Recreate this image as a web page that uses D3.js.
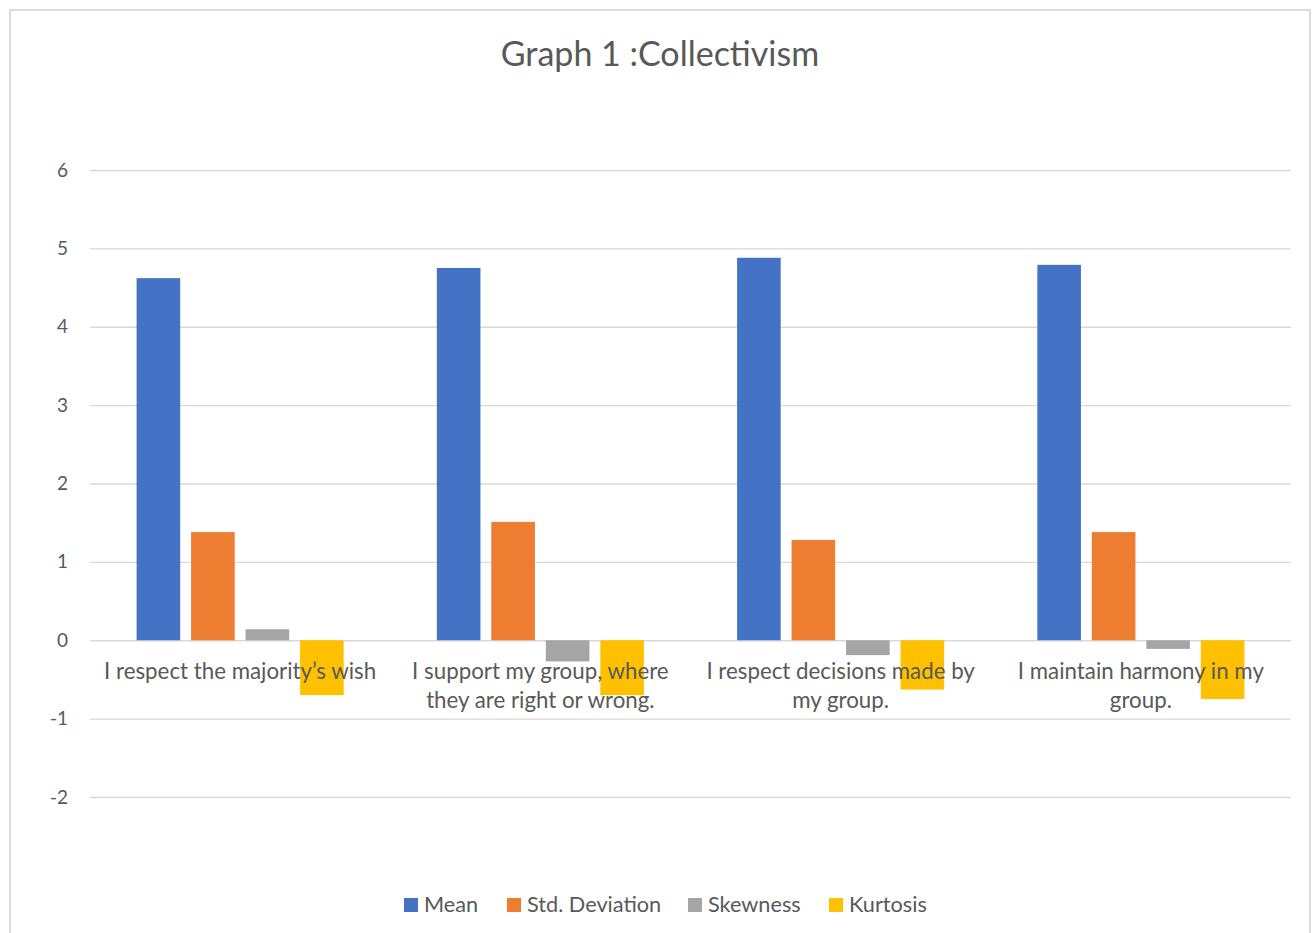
<!DOCTYPE html>
<html>
<head>
<meta charset="utf-8">
<script src="https://cdn.jsdelivr.net/npm/d3@7"></script>
<style>
  html, body { margin: 0; padding: 0; background: #fff; }
  svg { display: block; font-family: Lato, "Open Sans", "Noto Sans", sans-serif; }
</style>
</head>
<body>
<svg id="chart" width="1314" height="933"></svg>
<script>
// Collectivism survey items and their descriptive statistics
const categories = [
  "I respect the majority\u2019s wish",
  "I support my group, where they are right or wrong.",
  "I respect decisions made by my group.",
  "I maintain harmony in my group."
];
const seriesNames = ["Mean", "Std. Deviation", "Skewness", "Kurtosis"];
const meanValues     = [4.62, 4.75, 4.88, 4.79];
const stdDevValues   = [1.38, 1.51, 1.28, 1.38];
const skewnessValues = [0.14, -0.27, -0.19, -0.11];
const kurtosisValues = [-0.70, -0.70, -0.63, -0.75];
const yTicks = [-2, -1, 0, 1, 2, 3, 4, 5, 6];
const seriesColors = ["#4472C4", "#ED7D31", "#A5A5A5", "#FFC000"];

const seriesValues = [meanValues, stdDevValues, skewnessValues, kurtosisValues];
const rows = categories.map((c, i) => ({
  category: c,
  values: seriesNames.map((s, j) => ({ series: s, value: seriesValues[j][i] }))
}));

const svg = d3.select("#chart");
const plot = { left: 90, right: 1291, top: 170, bottom: 797 };
const textColor = "#595959";
const gridColor = "#D9D9D9";

// outer chart frame
svg.append("rect")
  .attr("x", 10).attr("y", 10)
  .attr("width", 1300).attr("height", 940)
  .attr("fill", "#fff")
  .attr("stroke", gridColor).attr("stroke-width", 2);

// title
svg.append("text")
  .attr("x", 660).attr("y", 66)
  .attr("text-anchor", "middle")
  .attr("fill", textColor)
  .attr("font-size", 34)
  .text("Graph 1 :Collectivism");

const y = d3.scaleLinear().domain([-2, 6]).range([plot.bottom, plot.top]);
const x0 = d3.scaleBand().domain(categories).range([plot.left, plot.right]).padding(0);
const x1 = d3.scaleBand().domain(seriesNames).range([0, x0.bandwidth()])
  .paddingInner(0.2).paddingOuter(0.855);
const color = d3.scaleOrdinal().domain(seriesNames).range(seriesColors);

// horizontal gridlines and value labels (plain hyphen for negatives)
const yAxis = d3.axisLeft(y).tickValues(yTicks).tickSize(-(plot.right - plot.left)).tickPadding(22)
  .tickFormat(d => String(d));
const gy = svg.append("g").attr("transform", `translate(${plot.left},0)`).call(yAxis);
gy.select(".domain").remove();
gy.selectAll(".tick line").attr("stroke", gridColor).attr("stroke-width", 1.3);
gy.selectAll(".tick text").attr("fill", textColor).attr("font-size", 19)
  .attr("font-family", "Lato, 'Open Sans', sans-serif");

// bars
const groups = svg.append("g").selectAll("g")
  .data(rows).join("g")
  .attr("transform", d => `translate(${x0(d.category)},0)`);
groups.selectAll("rect")
  .data(d => d.values).join("rect")
  .attr("x", d => x1(d.series))
  .attr("width", x1.bandwidth())
  .attr("y", d => y(Math.max(0, d.value)))
  .attr("height", d => Math.abs(y(d.value) - y(0)))
  .attr("fill", d => color(d.series));

// category labels, wrapped to the group width
function wrapLines(text, maxWidth, size) {
  const probe = svg.append("text").attr("font-size", size);
  const words = text.split(/\s+/);
  const lines = [];
  let line = [];
  words.forEach(w => {
    line.push(w);
    probe.text(line.join(" "));
    if (probe.node().getComputedTextLength() > maxWidth && line.length > 1) {
      line.pop();
      lines.push(line.join(" "));
      line = [w];
    }
  });
  lines.push(line.join(" "));
  probe.remove();
  return lines;
}
const catSize = 22.3;
const catLabels = svg.append("g");
categories.forEach(c => {
  const lines = wrapLines(c, 282, catSize);
  const t = catLabels.append("text")
    .attr("text-anchor", "middle")
    .attr("fill", textColor)
    .attr("font-size", catSize);
  lines.forEach((l, i) => {
    t.append("tspan")
      .attr("x", x0(c) + x0.bandwidth() / 2)
      .attr("y", 679 + i * 29)
      .text(l);
  });
});

// legend
const legendItems = [
  { name: seriesNames[0], x: 404 },
  { name: seriesNames[1], x: 507 },
  { name: seriesNames[2], x: 688 },
  { name: seriesNames[3], x: 829 }
];
const legend = svg.append("g");
const li = legend.selectAll("g").data(legendItems).join("g")
  .attr("transform", d => `translate(${d.x},898)`);
li.append("rect").attr("width", 14).attr("height", 14).attr("fill", d => color(d.name));
li.append("text").attr("x", 20).attr("y", 14)
  .attr("fill", textColor).attr("font-size", 21.7)
  .text(d => d.name);
</script>
</body>
</html>
